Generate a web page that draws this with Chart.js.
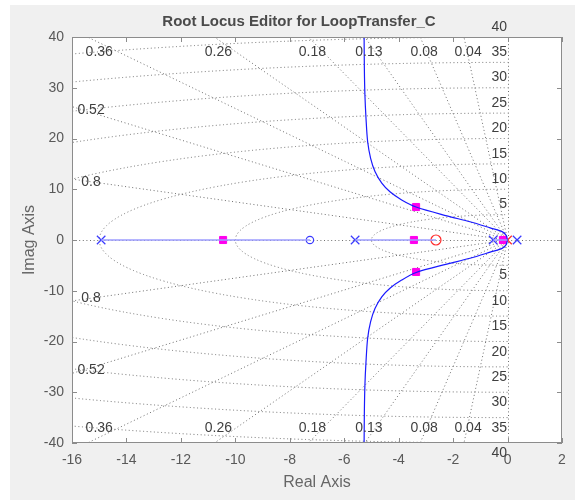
<!DOCTYPE html>
<html>
<head>
<meta charset="utf-8">
<script src="https://cdn.jsdelivr.net/npm/chart.js@4.4.1/dist/chart.umd.min.js"></script>
<style>
html,body{margin:0;padding:0;background:#f0f0f0;}
#wrap{width:575px;height:500px;position:relative;}
</style>
</head>
<body>
<div id="wrap"><canvas id="c" width="575" height="500"></canvas></div>
<script>
// ---- data ----
const chartTitle = 'Root Locus Editor for LoopTransfer_C';
const xTickValues = [-16, -14, -12, -10, -8, -6, -4, -2, 0, 2];
const yTickValues = [-40, -30, -20, -10, 0, 10, 20, 30, 40];
const zetaValues = [0.04, 0.08, 0.13, 0.18, 0.26, 0.36, 0.52, 0.8];
const zetaLabels = ['0.04', '0.08', '0.13', '0.18', '0.26', '0.36', '0.52', '0.8'];
const wnValues = [5, 10, 15, 20, 25, 30, 35, 40];
const wnLabels = ['5', '10', '15', '20', '25', '30', '35', '40'];

const plantPolesRe = [-14.93, -5.6, -0.53, 0.35];
const plantZerosRe = [-7.26];
const compPolesRe = [0.0];
const compZerosRe = [-2.63];
const closedPolesRe = [-10.45, -3.44, -3.36, -3.36, -0.17];
const closedPolesIm = [0, 0, 6.5, -6.3, 0];

const realLocusStart = [-14.93, -5.6, -0.53];
const realLocusEnd = [-7.26, -2.63, 0.0];

const branchRe = [0.0, -0.05, -0.2, -0.64, -1.38, -2.23, -3.36, -3.89, -4.32, -4.62, -4.87, -5.03, -5.14, -5.20, -5.24, -5.26, -5.27, -5.28];
const branchUpperIm = [0, 0.9, 1.65, 2.4, 3.6, 4.75, 6.5, 7.9, 9.5, 11.2, 13.5, 16.1, 19.4, 24.0, 28.6, 33.8, 40.4, 45];
const branchLowerIm = [0, -0.9, -1.65, -2.4, -3.6, -4.75, -6.4, -7.9, -9.5, -11.2, -13.5, -16.1, -19.4, -24.0, -28.6, -33.8, -40.4, -45];

// ---- build datasets ----
const FONT = '"Liberation Sans", Arial, Helvetica, sans-serif';
const pts = (xs, ys) => xs.map((x, i) => ({x: x, y: ys[i]}));
const zeros = n => new Array(n).fill(0);

const datasets = [];
realLocusStart.forEach((s, i) => {
  datasets.push({
    type: 'scatter', showLine: true, data: [{x: s, y: 0}, {x: realLocusEnd[i], y: 0}],
    borderColor: '#9c9cff', borderWidth: 1.5, pointRadius: 0, fill: false
  });
});
datasets.push({
  type: 'scatter', showLine: true, data: pts(branchRe, branchUpperIm),
  borderColor: '#1a1aff', borderWidth: 1.2, pointRadius: 0, tension: 0.3, fill: false
});
datasets.push({
  type: 'scatter', showLine: true, data: pts(branchRe, branchLowerIm),
  borderColor: '#1a1aff', borderWidth: 1.2, pointRadius: 0, tension: 0.3, fill: false
});
datasets.push({
  type: 'scatter', data: pts(plantZerosRe, zeros(plantZerosRe.length)),
  pointStyle: 'circle', pointRadius: 3.7, borderColor: '#3a3aff', backgroundColor: 'rgba(0,0,0,0)', borderWidth: 1.2
});
datasets.push({
  type: 'scatter', data: pts(compZerosRe, zeros(compZerosRe.length)),
  pointStyle: 'circle', pointRadius: 5, borderColor: '#ff2a2a', backgroundColor: 'rgba(0,0,0,0)', borderWidth: 1.2
});
datasets.push({
  type: 'scatter', data: pts(closedPolesRe, closedPolesIm),
  pointStyle: 'rect', pointRadius: 5, borderColor: '#ff00ee', backgroundColor: '#ff00ee', borderWidth: 1
});
datasets.push({
  type: 'scatter', data: pts(compPolesRe, zeros(compPolesRe.length)),
  pointStyle: 'crossRot', pointRadius: 6, borderColor: '#ff2a2a', borderWidth: 1.2
});
datasets.push({
  type: 'scatter', data: pts(plantPolesRe, zeros(plantPolesRe.length)),
  pointStyle: 'crossRot', pointRadius: 6, borderColor: '#3a3aff', borderWidth: 1.2
});

// ---- plugin: backgrounds, s-grid, box, ticks, labels, title ----
const sgridPlugin = {
  id: 'sgrid',
  beforeDraw(chart) {
    const ctx = chart.ctx, a = chart.chartArea;
    ctx.save();
    ctx.fillStyle = '#ffffff';
    ctx.fillRect(0, 0, chart.width, chart.height);
    ctx.fillStyle = '#f0f0f0';
    ctx.fillRect(10, 5, chart.width - 10, chart.height - 5);
    ctx.fillStyle = '#ffffff';
    ctx.fillRect(a.left, a.top, a.right - a.left, a.bottom - a.top);
    ctx.restore();
  },
  beforeDatasetsDraw(chart) {
    const ctx = chart.ctx, a = chart.chartArea;
    const xs = chart.scales.x, ys = chart.scales.y;
    const X = v => xs.getPixelForValue(v), Y = v => ys.getPixelForValue(v);
    ctx.save();
    ctx.beginPath();
    ctx.rect(a.left, a.top, a.right - a.left, a.bottom - a.top);
    ctx.clip();
    ctx.strokeStyle = '#707070';
    ctx.lineWidth = 1;
    ctx.setLineDash([1, 2.6]);
    // axes lines
    ctx.beginPath();
    ctx.moveTo(a.left, Math.round(Y(0)) + 0.5); ctx.lineTo(a.right, Math.round(Y(0)) + 0.5);
    ctx.moveTo(Math.round(X(0)) + 0.5, a.top); ctx.lineTo(Math.round(X(0)) + 0.5, a.bottom);
    ctx.stroke();
    // damping rays
    const R = 200;
    zetaValues.forEach(z => {
      const s = Math.sqrt(1 - z * z);
      ctx.beginPath();
      ctx.moveTo(X(0), Y(0)); ctx.lineTo(X(-R * z), Y(R * s));
      ctx.moveTo(X(0), Y(0)); ctx.lineTo(X(-R * z), Y(-R * s));
      ctx.stroke();
    });
    // natural frequency semicircles
    const cx = X(0), cy = Y(0);
    wnValues.forEach(w => {
      const rx = Math.abs(X(w) - X(0)), ry = Math.abs(Y(w) - Y(0));
      ctx.beginPath();
      ctx.ellipse(cx, cy, rx, ry, 0, Math.PI / 2, 3 * Math.PI / 2);
      ctx.stroke();
    });
    ctx.restore();
  },
  afterDatasetsDraw(chart) {
    const ctx = chart.ctx, a = chart.chartArea;
    const xs = chart.scales.x, ys = chart.scales.y;
    const X = v => xs.getPixelForValue(v), Y = v => ys.getPixelForValue(v);
    ctx.save();
    // box
    ctx.strokeStyle = '#8c8c8c';
    ctx.lineWidth = 1;
    ctx.strokeRect(Math.round(a.left) + 0.5, Math.round(a.top) + 0.5,
                   Math.round(a.right - a.left) - 1, Math.round(a.bottom - a.top) - 1);
    // inward ticks
    const tl = 5;
    ctx.beginPath();
    xTickValues.forEach(v => {
      const px = Math.round(X(v)) + 0.5;
      ctx.moveTo(px, a.bottom); ctx.lineTo(px, a.bottom - tl);
      ctx.moveTo(px, a.top); ctx.lineTo(px, a.top + tl);
    });
    yTickValues.forEach(v => {
      const py = Math.round(Y(v)) + 0.5;
      ctx.moveTo(a.left, py); ctx.lineTo(a.left + tl, py);
      ctx.moveTo(a.right, py); ctx.lineTo(a.right - tl, py);
    });
    ctx.stroke();

    // damping labels
    ctx.fillStyle = '#3f3f3f';
    ctx.font = '14px ' + FONT;
    ctx.textAlign = 'center';
    ctx.textBaseline = 'middle';
    const xMin = xs.min, yMax = ys.max;
    zetaValues.forEach((z, i) => {
      const slope = Math.sqrt(1 - z * z) / z;
      const xHit = -yMax / slope;
      let lx, ly;
      if (xHit >= xMin) {
        lx = Math.max(xHit + 0.15, xMin + 1.0);
        ly = yMax - 2.9;
      } else {
        lx = xMin + 0.7;
        ly = -xMin * slope - 0.6;
      }
      ctx.fillText(zetaLabels[i], X(lx), Y(ly));
      ctx.fillText(zetaLabels[i], X(lx), Y(-ly));
    });
    // natural frequency labels
    ctx.textAlign = 'right';
    wnValues.forEach((w, i) => {
      ctx.fillText(wnLabels[i], X(0) - 0.5, Y(w + 2));
      ctx.fillText(wnLabels[i], X(0) - 0.5, Y(-(w + 2)));
    });
    // title
    ctx.fillStyle = '#4b4b4b';
    ctx.font = 'bold 15px ' + FONT;
    ctx.textAlign = 'center';
    ctx.fillText(chartTitle, 299, 22);
    ctx.restore();
  }
};

new Chart(document.getElementById('c'), {
  type: 'scatter',
  data: { datasets: datasets },
  options: {
    responsive: false,
    animation: false,
    devicePixelRatio: 1,
    layout: { padding: { left: 12, right: 13, top: 37, bottom: 0 } },
    plugins: { legend: { display: false }, tooltip: { enabled: false }, title: { display: false } },
    scales: {
      x: {
        type: 'linear', min: -16, max: 2,
        afterBuildTicks: s => { s.ticks = xTickValues.map(v => ({value: v})); },
        ticks: { font: { size: 14, family: FONT }, color: '#595959', padding: 9, maxRotation: 0, autoSkip: false },
        grid: { display: false, drawTicks: false },
        border: { display: false },
        title: { display: true, text: 'Real Axis', color: '#666666', font: { size: 16, family: FONT }, padding: { top: 0, bottom: 8 } },
        afterFit: s => { s.height = 57; }
      },
      y: {
        type: 'linear', min: -40, max: 40,
        afterBuildTicks: s => { s.ticks = yTickValues.map(v => ({value: v})); },
        ticks: { font: { size: 14, family: FONT }, color: '#595959', padding: 8, autoSkip: false },
        grid: { display: false, drawTicks: false },
        border: { display: false },
        title: { display: true, text: 'Imag Axis', color: '#666666', font: { size: 16, family: FONT }, padding: { top: 8, bottom: 0 } },
        afterFit: s => { s.width = 60; }
      }
    }
  },
  plugins: [sgridPlugin]
});
</script>
</body>
</html>
